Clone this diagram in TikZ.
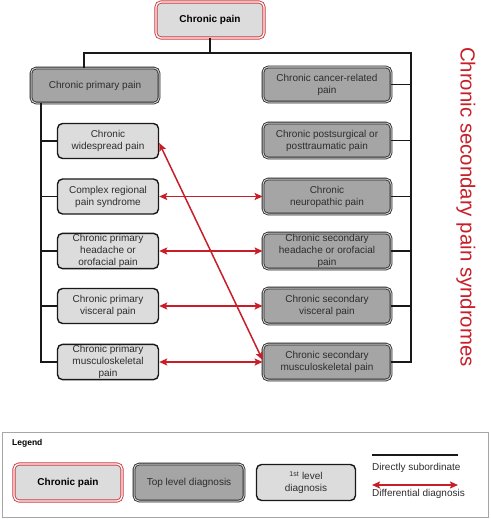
\documentclass[tikz,border=0pt]{standalone}
\usepackage{fontspec}
\setmainfont{Liberation Sans}
\usetikzlibrary{arrows.meta}
\definecolor{myred}{RGB}{200,30,40}
\definecolor{boxred}{RGB}{205,60,65}
\definecolor{lightfill}{RGB}{220,220,220}
\definecolor{darkfill}{RGB}{165,165,165}
\definecolor{txt}{RGB}{45,45,45}
\begin{document}
\begin{tikzpicture}[x=1pt,y=-1pt,
  base/.style={rounded corners=5pt, align=center, inner sep=1pt, text=txt,
    font=\fontsize{10}{12}\selectfont},
  rootbox/.style={base, draw=boxred, double=white, line width=0.9pt, double distance=1.3pt,
    fill=lightfill, font=\fontsize{10}{12}\selectfont\bfseries, text=black},
  topbox/.style={base, draw=black!85, double=gray!35, line width=0.8pt, double distance=1pt,
    fill=darkfill},
  firstbox/.style={base, draw=black!90, line width=1.4pt, fill=lightfill},
  tree/.style={draw=black!90, line width=1.3pt},
  diff/.style={draw=myred, line width=1.5pt,
    {Stealth[length=8pt,width=7pt,inset=1.5pt]}-{Stealth[length=8pt,width=7pt,inset=1.5pt]}}
]
\useasboundingbox (0,0) rectangle (490,519);

% root
\node[rootbox, minimum width=108pt, minimum height=36pt] (cp) at (210,20) {Chronic pain};

% top level
\node[topbox, minimum width=128pt, minimum height=35pt] (cpp) at (95,85.5) {Chronic primary pain};
\node[topbox, minimum width=128pt, minimum height=35pt] (ccr) at (327,84.5) {Chronic cancer-related\\pain};
\node[topbox, minimum width=128pt, minimum height=35pt] (cps) at (327,140.5) {Chronic postsurgical or\\posttraumatic pain};
\node[topbox, minimum width=128pt, minimum height=35pt] (cnp) at (327,196.5) {Chronic\\neuropathic pain};
\node[topbox, minimum width=128pt, minimum height=36pt] (csh) at (327,251) {Chronic secondary\\headache or orofacial\\pain};
\node[topbox, minimum width=128pt, minimum height=36pt] (csv) at (327,306) {Chronic secondary\\visceral pain};
\node[topbox, minimum width=128pt, minimum height=36pt] (csm) at (327,362) {Chronic secondary\\musculoskeletal pain};

% first level
\node[firstbox, minimum width=101pt, minimum height=35pt] (cwp) at (108,141) {Chronic\\widespread pain};
\node[firstbox, minimum width=101pt, minimum height=35pt] (crps) at (108,196.5) {Complex regional\\pain syndrome};
\node[firstbox, minimum width=101pt, minimum height=35pt] (cph) at (108,251) {Chronic primary\\headache or\\orofacial pain};
\node[firstbox, minimum width=101pt, minimum height=35pt] (cpv) at (108,306) {Chronic primary\\visceral pain};
\node[firstbox, minimum width=101pt, minimum height=35pt] (cpm) at (108,362) {Chronic primary\\musculoskeletal\\pain};

% tree connectors
\coordinate (busL) at (84,53);
\coordinate (busR) at (411,53);
\coordinate (spL) at (41,0);
\draw[tree] (cp.south) -- (cp.south |- busL);
\draw[tree] (busL |- cpp.north) -- (busL) -- (busR) -- (busR |- csm.east) -- (csm.east);
\foreach \n in {ccr,cps,cnp,csh,csv} \draw[tree] (\n.east) -- (\n.east -| busR);
\draw[tree] (spL |- cpp.south) -- (spL |- cpm.west) -- (cpm.west);
\foreach \n in {cwp,crps,cph,cpv} \draw[tree] (\n.west) -- (\n.west -| spL);

% differential diagnosis
\draw[diff] (crps.east) -- (cnp.west);
\draw[diff] (cph.east) -- (csh.west);
\draw[diff] (cpv.east) -- (csv.west);
\draw[diff] (cpm.east) -- (csm.west);
\draw[diff] ([yshift=-2pt]cwp.east) -- ([yshift=2pt]csm.west);

% side label
\node[rotate=-90, text=myred, font=\fontsize{20.4}{24}\selectfont, inner sep=0pt] (side) at (466,207) {Chronic secondary pain syndromes};

% legend
\node[draw=gray!70, line width=0.8pt, minimum width=486pt, minimum height=85pt, inner sep=0pt] (leg) at (245,474.5) {};
\node[anchor=west, font=\fontsize{8.5}{10}\selectfont\bfseries, inner sep=0pt] (legt) at (12,443) {Legend};
\node[rootbox, minimum width=108pt, minimum height=37pt] (l1) at (68,482.5) {Chronic pain};
\node[topbox, minimum width=110pt, minimum height=37pt] (l2) at (189,482.5) {Top level diagnosis};
\node[firstbox, minimum width=99pt, minimum height=36pt] (l3) at (306,482.5) {\textsuperscript{1st} level\\diagnosis};
\coordinate (la) at (372,455);
\coordinate (lb) at (458,455);
\draw[tree, line width=1.2pt] (la) -- (lb);
\node[anchor=west, inner sep=0pt, text=txt, font=\fontsize{10}{12}\selectfont] (lt1) at (372,468) {Directly subordinate};
\coordinate (lc) at (372,485);
\coordinate (ld) at (458,485);
\draw[diff] (lc) -- (ld);
\node[anchor=west, inner sep=0pt, text=txt, font=\fontsize{10}{12}\selectfont] (lt2) at (372,494) {Differential diagnosis};
\end{tikzpicture}
\end{document}
